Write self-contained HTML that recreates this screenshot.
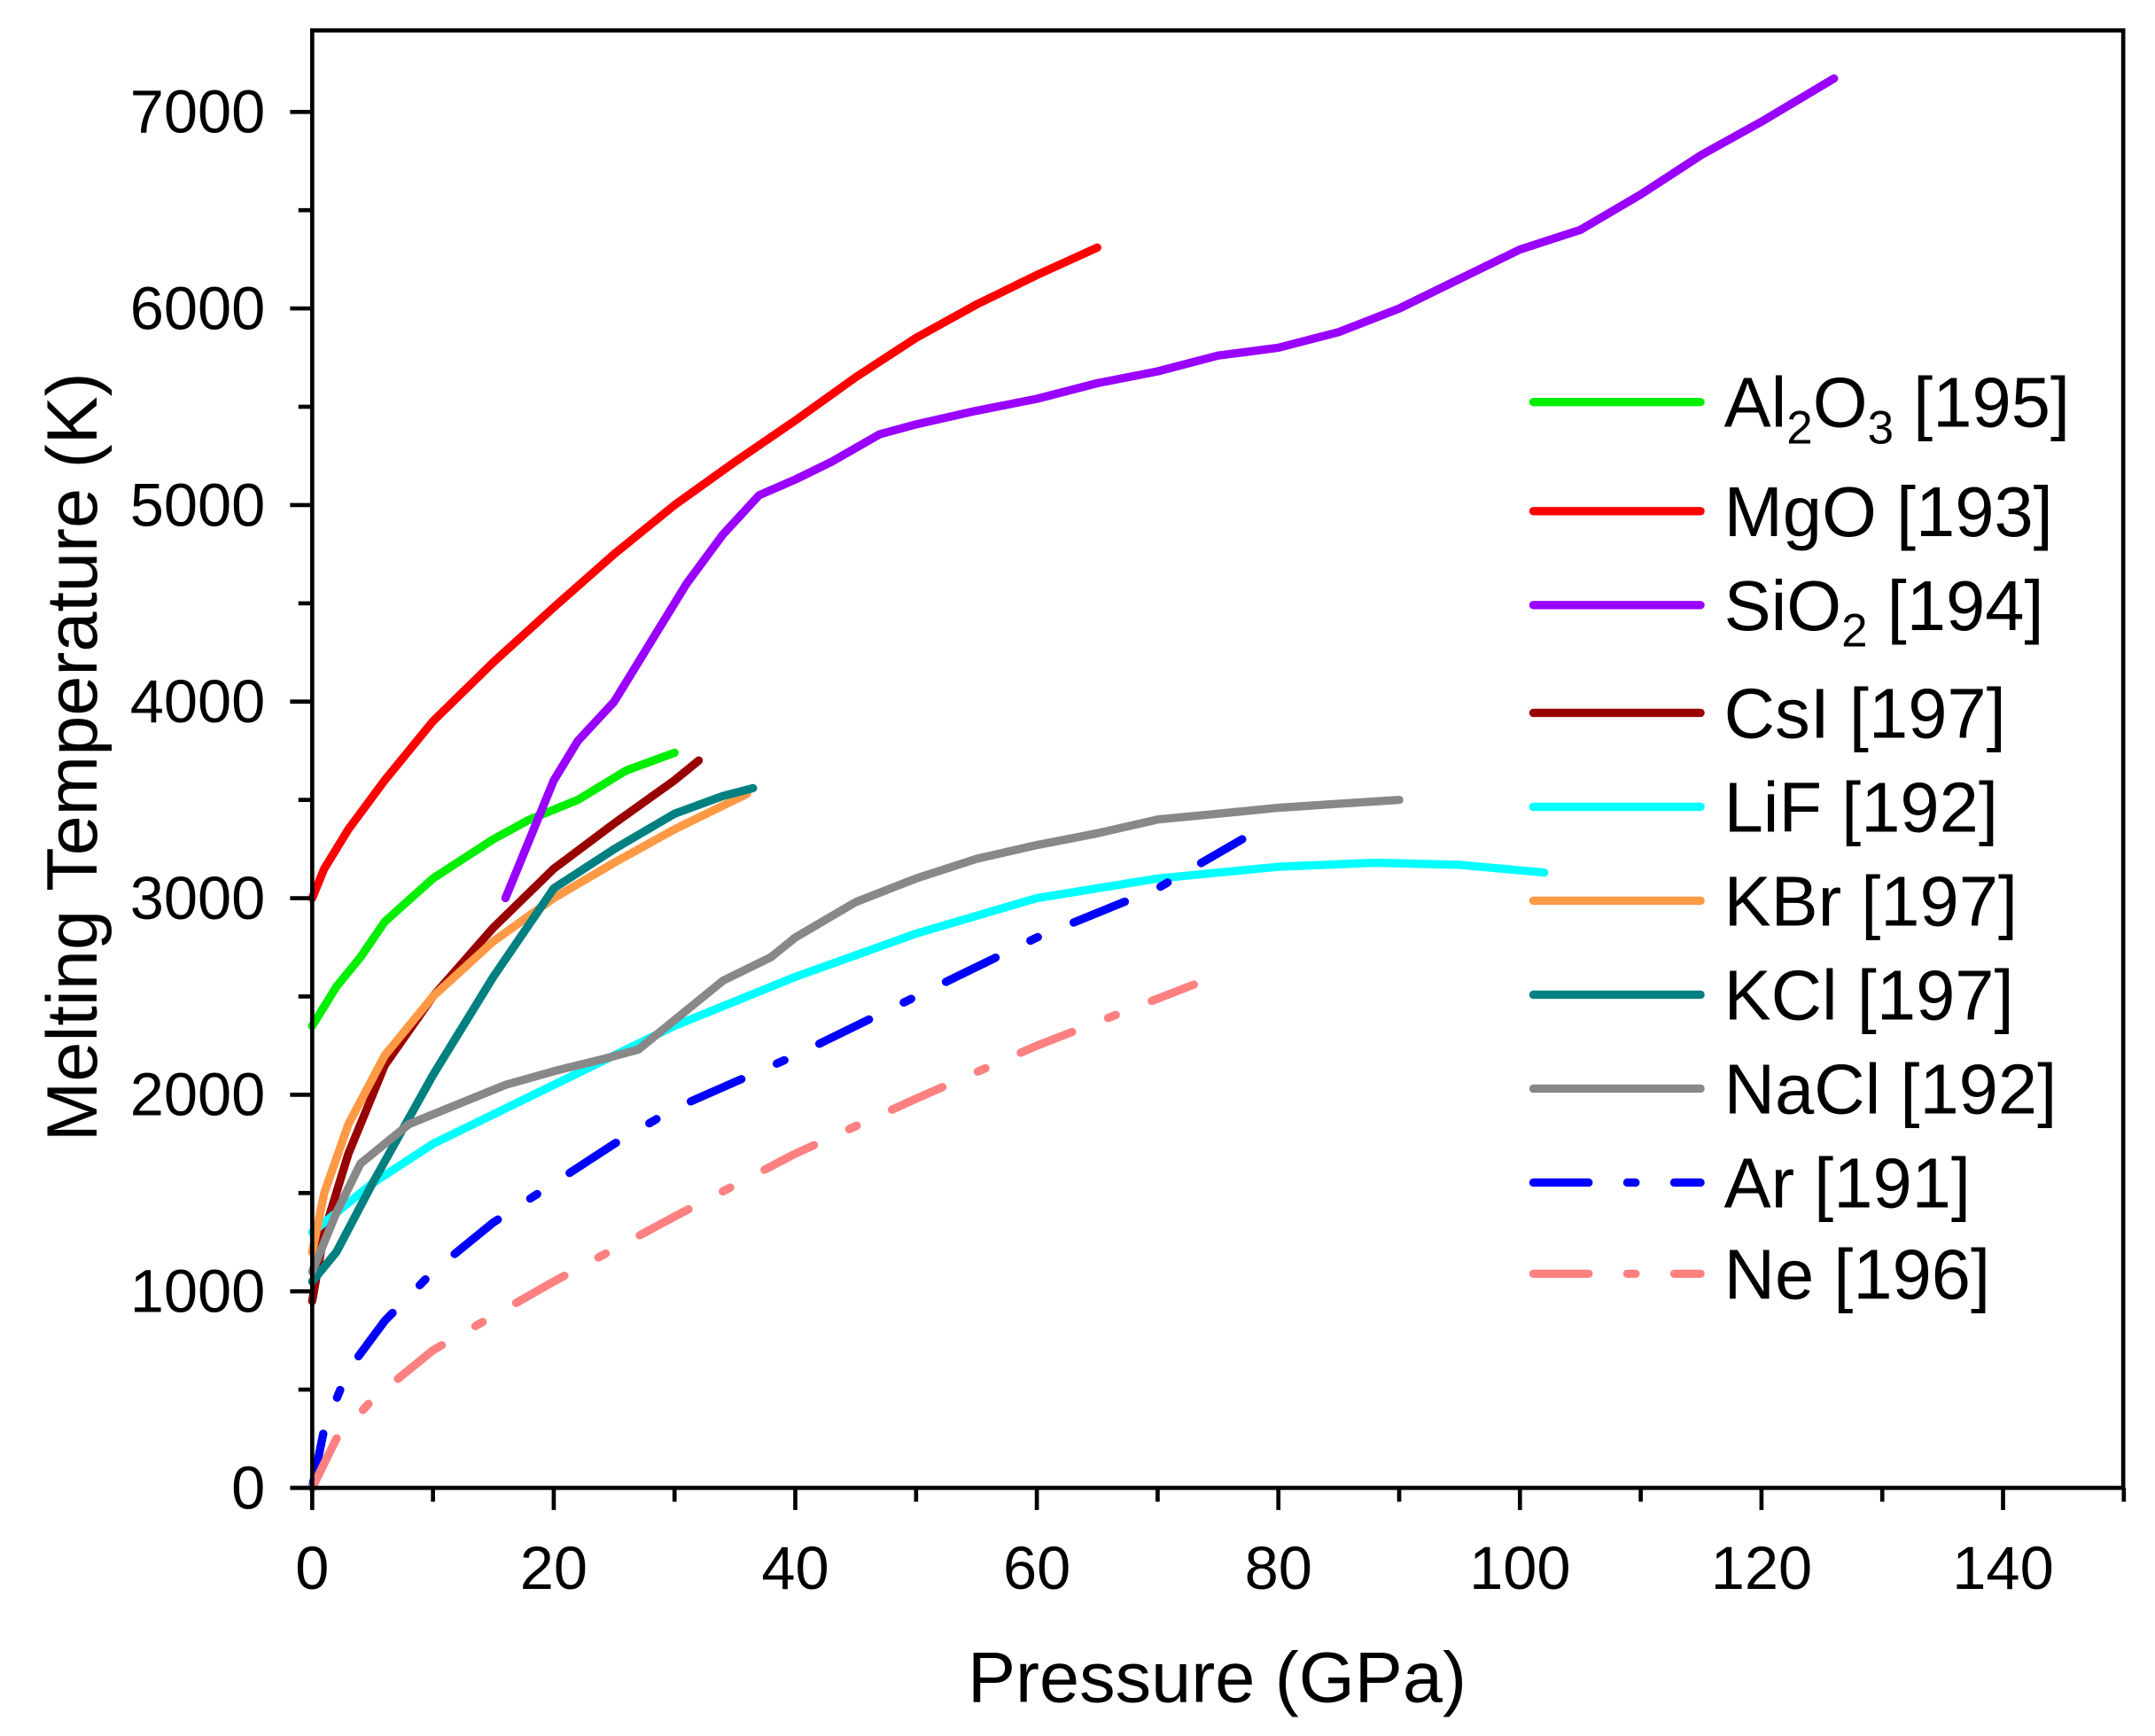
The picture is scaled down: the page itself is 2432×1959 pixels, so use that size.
<!DOCTYPE html>
<html><head><meta charset="utf-8"><style>
html,body{margin:0;padding:0;background:#fff}
svg{display:block}
text{font-family:"Liberation Sans",sans-serif;fill:#000}
</style></head><body>
<svg id="chart" width="2432" height="1959" viewBox="0 0 1560 1256.6" xmlns="http://www.w3.org/2000/svg">
<g id="series"></g>
<rect x="226" y="22" width="1311" height="1055" fill="none" stroke="#000" stroke-width="3"/>
<g id="axes"></g>
<text x="881" y="1232" font-size="52" text-anchor="middle">Pressure (GPa)</text>
<text transform="translate(70,548) rotate(-90)" font-size="52" text-anchor="middle">Melting Temperature (K)</text>
<g id="legend"></g>
</svg>
<script>
const xTicks=[0,20,40,60,80,100,120,140];
const yTicks=[0,1000,2000,3000,4000,5000,6000,7000];
const seriesNames=["Al2O3","MgO","SiO2","CsI","LiF","KBr","KCl","NaCl","Ar","Ne"];
const al2o3P=[0,2,4,6,10,15,18,22,26,30];
const al2o3T=[2350,2550,2700,2880,3100,3300,3400,3500,3650,3740];
const mgoP=[0,1,3,6,10,15,20,25,30,35,40,45,50,55,60,65];
const mgoT=[3000,3150,3350,3600,3900,4200,4480,4750,5000,5220,5430,5650,5850,6020,6170,6310];
const sio2P=[16,18,20,22,25,28,31,34,37,40,43,47,50,55,60,65,70,75,80,85,90,95,100,105,110,115,120,126];
const sio2T=[3000,3300,3600,3800,4000,4300,4600,4850,5050,5130,5220,5360,5410,5480,5540,5620,5680,5760,5800,5880,6000,6150,6300,6400,6580,6780,6950,7170];
const csiP=[0,1,3,6,10,15,20,25,30,32];
const csiT=[950,1300,1700,2150,2500,2850,3150,3380,3600,3700];
const lifP=[0,5,10,20,30,40,50,60,70,80,88,95,102];
const lifT=[1300,1550,1750,2050,2350,2600,2820,3000,3100,3160,3180,3170,3130];
const kbrP=[0,1,3,6,10,15,20,25,30,36];
const kbrT=[1200,1500,1850,2200,2500,2780,3000,3180,3350,3530];
const kclP=[0,2,5,10,15,20,25,30,34,36.5];
const kclT=[1050,1200,1550,2100,2600,3050,3250,3430,3520,3560];
const naclP=[0,2,4,8,12,16,20,24,27,30,34,38,40,45,50,55,60,65,70,75,80,85,90];
const naclT=[1100,1400,1650,1850,1950,2050,2120,2180,2230,2380,2580,2700,2800,2980,3100,3200,3270,3330,3400,3430,3460,3480,3500];
const arP=[0,1,3,6,10,15,20,25,30,40,50,60,70,77];
const arT=[0,300,600,850,1100,1350,1550,1750,1930,2200,2500,2800,3050,3300];
const neP=[0,2,5,10,20,30,40,50,60,73];
const neT=[0,250,450,700,1050,1380,1700,1980,2250,2560];

const NS="http://www.w3.org/2000/svg";
const X0=226,X1=1537,Y0=1077,Y1=22;
function sx(p){return X0+p*(1450-226)/140;}
function sy(t){return Y0-t*(Y0-81)/7000;}
function mk(tag,attrs,parent){const e=document.createElementNS(NS,tag);for(const k in attrs)e.setAttribute(k,attrs[k]);parent.appendChild(e);return e;}

const axes=document.getElementById('axes');
for(let v=0;v<=150;v+=10){
  const major=v%20===0;
  const t=mk('line',{x1:sx(v),x2:sx(v),y1:Y0,y2:Y0+(major?16:10),stroke:'#000','stroke-width':3},axes);
  
  
}
xTicks.forEach(v=>{
  const t=mk('text',{x:sx(v),y:1150,'font-size':44,'text-anchor':'middle'},axes);
  t.textContent=v;
  
  
});
for(let v=0;v<=7000;v+=500){
  const major=v%1000===0;
  const t=mk('line',{x1:X0,x2:X0-(major?16:10),y1:sy(v),y2:sy(v),stroke:'#000','stroke-width':3},axes);
  
  
}
yTicks.forEach(v=>{
  const t=mk('text',{x:192,y:sy(v)+15,'font-size':44,'text-anchor':'end'},axes);
  t.textContent=v;
  
  
});

const styles=[
 {c:'#00ee00',d:null,lab:['Al','2','O','3',' [195]'],P:al2o3P,T:al2o3T},
 {c:'#ff0000',d:null,lab:['MgO [193]'],P:mgoP,T:mgoT},
 {c:'#9900ff',d:null,lab:['SiO','2',' [194]'],P:sio2P,T:sio2T},
 {c:'#990000',d:null,lab:['CsI [197]'],P:csiP,T:csiT},
 {c:'#00ffff',d:null,lab:['LiF [192]'],P:lifP,T:lifT},
 {c:'#ff9944',d:null,lab:['KBr [197]'],P:kbrP,T:kbrT},
 {c:'#008080',d:null,lab:['KCl [197]'],P:kclP,T:kclT},
 {c:'#888888',d:null,lab:['NaCl [192]'],P:naclP,T:naclT},
 {c:'#0000ff',d:'40 28 6 28',lab:['Ar [191]'],P:arP,T:arT},
 {c:'#ff8080',d:'40 28 6 28',lab:['Ne [196]'],P:neP,T:neT}
];
const sg=document.getElementById('series');
styles.forEach((s,i)=>{
  const pts=s.P.map((p,j)=>sx(p).toFixed(1)+','+sy(s.T[j]).toFixed(1)).join(' ');
  const a={points:pts,fill:'none',stroke:s.c,'stroke-width':6,'stroke-linecap':'round','stroke-linejoin':'round'};
  if(s.d)a['stroke-dasharray']=s.d;
  const pl=mk('polyline',a,sg);
  
  
});
const lg=document.getElementById('legend');
const rows=[291,370,438,516,584,652,720,788,856,922];
styles.forEach((s,i)=>{
  const y=rows[i];
  const a={x1:1110,x2:1231,y1:y,y2:y,stroke:s.c,'stroke-width':6,'stroke-linecap':'round'};
  if(s.d)a['stroke-dasharray']=s.d;
  const l=mk('line',a,lg);
  
  
  const t=mk('text',{x:1248,y:y+18,'font-size':51},lg);
  
  
  s.lab.forEach((part,k)=>{
    const sub=(s.lab.length>1 && /^\d$/.test(part));
    const ts=mk('tspan',sub?{'font-size':34,dy:12}:(k>0&&/^\d$/.test(s.lab[k-1])?{dy:-12}:{}),t);
    ts.textContent=part;
  });
});
</script>
</body></html>
